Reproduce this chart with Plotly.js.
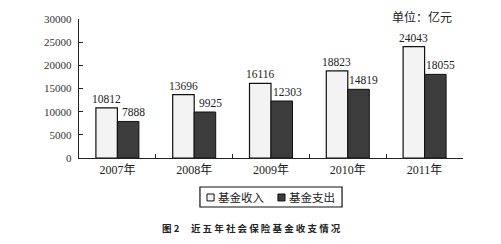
<!DOCTYPE html>
<html>
<head>
<meta charset="utf-8">
<script src="https://cdn.plot.ly/plotly-3.0.1.min.js"></script>
<style>
  html, body { margin: 0; padding: 0; background: #fff; }
  #chart { width: 501px; height: 244px; }
</style>
</head>
<body>
<div id="chart"></div>
<script>
// 近五年社会保险基金收支（亿元）
const years = ['2007年', '2008年', '2009年', '2010年', '2011年'];
const income = [10812, 13696, 16116, 18823, 24043];
const expense = [7888, 9925, 12303, 14819, 18055];
const seriesNames = ['基金收入', '基金支出'];
const yTicks = [0, 5000, 10000, 15000, 20000, 25000, 30000];

const serif = '"Liberation Serif", "Noto Sans CJK SC", serif';
const cjk = '"Noto Sans CJK SC", sans-serif';

const fills = ['#f3f3f3', '#3c3c3c'];

const traces = [
  {
    type: 'bar', name: seriesNames[0], x: years, y: income,
    marker: { color: fills[0], line: { color: '#111', width: 1.2 } }
  },
  {
    type: 'bar', name: seriesNames[1], x: years, y: expense,
    marker: { color: fills[1], line: { color: '#111', width: 1 } }
  }
];

// value labels above each bar, placed at the bar's category and value
function valueLabels(values, xshift) {
  return values.map((v, i) => ({
    x: years[i], y: v, xref: 'x', yref: 'y', text: String(v),
    showarrow: false, xanchor: 'center', yanchor: 'bottom',
    xshift: xshift, yshift: 1,
    font: { family: serif, size: 11.5, color: '#222' }
  }));
}

// compact boxed key below the axis
const keyBox = { x0: 0.315, x1: 0.685, y0: -0.3525, y1: -0.2086 };
const keyItems = [
  { sx: 0.3333, tx: 0.357 },
  { sx: 0.518, tx: 0.542 }
];
const keyShapes = [
  {
    type: 'rect', xref: 'paper', yref: 'paper', ...keyBox,
    line: { color: '#111', width: 1.2 }, fillcolor: '#fff'
  },
  ...keyItems.map((k, i) => ({
    type: 'rect', xref: 'paper', yref: 'paper',
    x0: k.sx, x1: k.sx + 0.0185, y0: -0.309, y1: -0.259,
    line: { color: '#111', width: 1 }, fillcolor: fills[i]
  }))
];
const keyLabels = keyItems.map((k, i) => ({
  text: seriesNames[i], xref: 'paper', yref: 'paper', x: k.tx, y: -0.282,
  xanchor: 'left', yanchor: 'middle', showarrow: false,
  font: { family: cjk, size: 11.5, color: '#222' }
}));

const layout = {
  width: 501, height: 244,
  margin: { l: 79, r: 38, t: 19, b: 86 },
  paper_bgcolor: '#fff', plot_bgcolor: '#fff',
  barmode: 'group', bargap: 0.44, bargroupgap: 0,
  showlegend: false,
  xaxis: {
    showline: true, linecolor: '#222', linewidth: 1.2,
    ticks: 'inside', tickson: 'boundaries', ticklen: 4, tickcolor: '#222',
    tickfont: { family: serif, size: 12, color: '#222' },
    showgrid: false, zeroline: false, fixedrange: true
  },
  yaxis: {
    range: [0, 30000], tickvals: yTicks, ticktext: yTicks.map(String),
    showline: true, linecolor: '#222', linewidth: 1.2,
    ticks: 'inside', ticklen: 4, tickcolor: '#222', ticklabelstandoff: 4,
    tickfont: { family: serif, size: 11, color: '#333' },
    showgrid: false, zeroline: false, fixedrange: true
  },
  shapes: keyShapes,
  annotations: [
    ...valueLabels(income, -11),
    ...valueLabels(expense, 16),
    ...keyLabels,
    {
      text: '单位：亿元', xref: 'paper', yref: 'paper', x: 0.81, y: 1.02,
      xanchor: 'left', yanchor: 'middle', showarrow: false,
      font: { family: cjk, size: 12, color: '#222' }
    },
    {
      text: '<b>图 2　 近 五 年 社 会 保 险 基 金 收 支 情 况</b>', xref: 'paper', yref: 'paper',
      x: 0.448, y: -0.505, xanchor: 'center', yanchor: 'middle', showarrow: false,
      font: { family: cjk, size: 9.5, color: '#222' }
    }
  ]
};

Plotly.newPlot('chart', traces, layout, { displayModeBar: false, staticPlot: true });
</script>
</body>
</html>
